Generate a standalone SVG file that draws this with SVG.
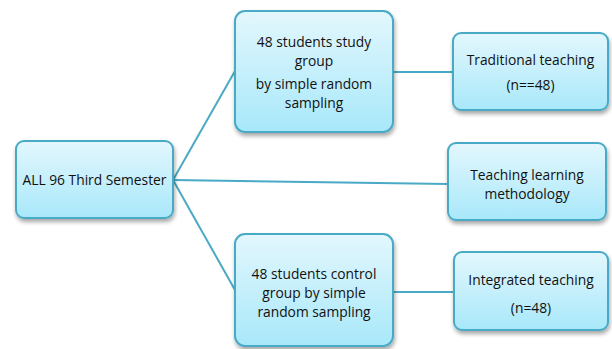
<svg xmlns="http://www.w3.org/2000/svg" width="612" height="349" viewBox="0 0 612 349">
<defs>
<linearGradient id="g" x1="0" y1="0" x2="0" y2="1">
<stop offset="0" stop-color="#e3f7fd"/>
<stop offset="1" stop-color="#a8e8fa"/>
</linearGradient>
<filter id="sh" x="-10%" y="-10%" width="130%" height="140%">
<feGaussianBlur in="SourceAlpha" stdDeviation="2"/>
<feOffset dx="1" dy="3" result="b"/>
<feComponentTransfer><feFuncA type="linear" slope="0.35"/></feComponentTransfer>
<feMerge><feMergeNode/><feMergeNode in="SourceGraphic"/></feMerge>
</filter>
</defs>
<style>
.box{fill:url(#g);stroke:#4aaac6;stroke-width:2;filter:url(#sh)}
.t{font-family:"Open Sans","Liberation Sans",sans-serif;font-size:13.8px;fill:#111;text-anchor:middle}
.c{stroke:#4aaac6;stroke-width:2;fill:none}
</style>
<rect width="612" height="349" fill="#fff"/>
<g id="connectors">
<line class="c" x1="173" y1="180" x2="235" y2="71"/>
<line class="c" x1="173" y1="180" x2="448" y2="184"/>
<line class="c" x1="173" y1="180" x2="235" y2="290"/>
<line class="c" x1="393" y1="72" x2="453" y2="72"/>
<line class="c" x1="393" y1="292" x2="454" y2="292"/>
</g>
<g id="root">
<rect class="box" x="16" y="141" width="157" height="77" rx="8"/>
<text class="t" x="94.5" y="185">ALL 96 Third Semester</text>
</g>
<g id="study">
<rect class="box" x="235" y="11" width="158" height="121" rx="10"/>
<text class="t" x="314" y="46.5">48 students study</text>
<text class="t" x="314" y="66">group</text>
<text class="t" x="314" y="89">by simple random</text>
<text class="t" x="314" y="108">sampling</text>
</g>
<g id="traditional">
<rect class="box" x="453" y="33" width="155" height="77" rx="8"/>
<text class="t" x="530.5" y="65">Traditional teaching</text>
<text class="t" x="530.5" y="90">(n==48)</text>
</g>
<g id="methodology">
<rect class="box" x="448" y="143" width="158" height="77" rx="8"/>
<text class="t" x="527" y="180">Teaching learning</text>
<text class="t" x="527" y="199">methodology</text>
</g>
<g id="control">
<rect class="box" x="235" y="234" width="158" height="112" rx="10"/>
<text class="t" x="314" y="279">48 students control</text>
<text class="t" x="314" y="298">group by simple</text>
<text class="t" x="314" y="317">random sampling</text>
</g>
<g id="integrated">
<rect class="box" x="454" y="252" width="154" height="78" rx="8"/>
<text class="t" x="531" y="285">Integrated teaching</text>
<text class="t" x="531" y="313">(n=48)</text>
</g>
</svg>
